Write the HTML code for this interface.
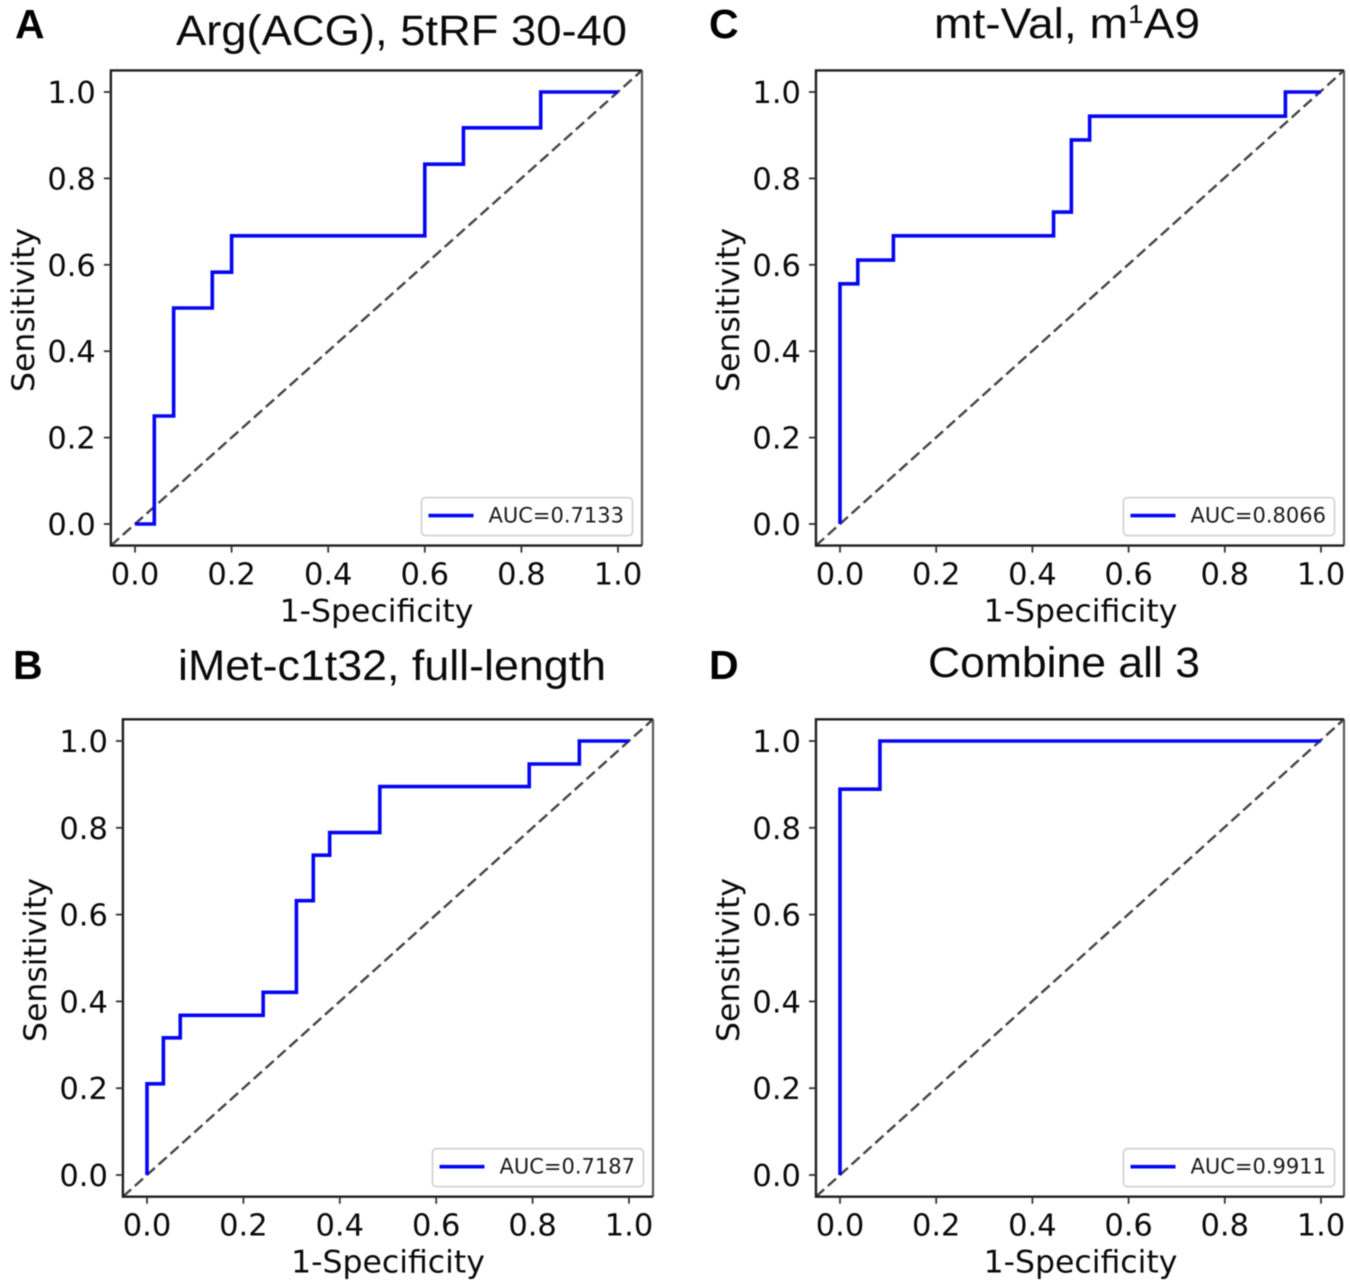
<!DOCTYPE html>
<html lang="en">
<head>
<meta charset="utf-8">
<title>ROC curves</title>
<style>
html,body{margin:0;padding:0;background:#fff;width:1350px;height:1284px;overflow:hidden}
svg{display:block;filter:blur(0.5px)}
text{fill:#0a0a0a}
.tick{font:30.5px "DejaVu Sans",sans-serif}
.axis{font:31.5px "DejaVu Sans",sans-serif}
.leg{font:21px "DejaVu Sans",sans-serif;fill:#1a1a1a}
.title{font:43px "Liberation Sans",sans-serif;fill:#0a0a0a}
.letter{font:bold 41px "Liberation Sans",sans-serif;fill:#000}
</style>
</head>
<body>
<svg id="figure" xmlns="http://www.w3.org/2000/svg" width="1350" height="1284" viewBox="0 0 1350 1284">
<rect width="1350" height="1284" fill="#fff"/>
<text class="letter" x="15" y="38">A</text>
<text class="letter" x="13" y="679">B</text>
<text class="letter" x="709" y="38">C</text>
<text class="letter" x="709" y="679">D</text>
<text class="title" x="176" y="45" textLength="451" lengthAdjust="spacingAndGlyphs">Arg(ACG), 5tRF 30-40</text>
<text class="title" x="178" y="680" textLength="428" lengthAdjust="spacingAndGlyphs">iMet-c1t32, full-length</text>
<text class="title" x="934" y="38" textLength="266" lengthAdjust="spacingAndGlyphs">mt-Val, m<tspan dy="-15" font-size="26">1</tspan><tspan dy="15">A9</tspan></text>
<text class="title" x="928" y="677" textLength="272" lengthAdjust="spacingAndGlyphs">Combine all 3</text>
</svg>
<script>
// Tick labels
const tickValues = [0, 0.2, 0.4, 0.6, 0.8, 1.0];
const tickLabels = ["0.0", "0.2", "0.4", "0.6", "0.8", "1.0"];

// Panel A: Arg(ACG), 5tRF 30-40
const fprA = [0, 0.04, 0.08, 0.16, 0.20, 0.60, 0.68, 0.84, 1];
const tprA = [0, 0.25, 0.50, 0.583, 0.667, 0.833, 0.917, 1, 1];
const aucA = "AUC=0.7133";

// Panel B: iMet-c1t32, full-length
const fprB = [0, 0, 0.034, 0.069, 0.241, 0.31, 0.345, 0.379, 0.483, 0.793, 0.897, 1];
const tprB = [0, 0.21, 0.316, 0.368, 0.421, 0.632, 0.737, 0.789, 0.895, 0.947, 1, 1];
const aucB = "AUC=0.7187";

// Panel C: mt-Val, m1A9
const fprC = [0, 0, 0.037, 0.111, 0.444, 0.481, 0.519, 0.926, 1];
const tprC = [0, 0.556, 0.611, 0.667, 0.722, 0.889, 0.944, 1, 1];
const aucC = "AUC=0.8066";

// Panel D: Combine all 3
const fprD = [0, 0, 0.083, 1];
const tprD = [0, 0.889, 1, 1];
const aucD = "AUC=0.9911";

const NS = "http://www.w3.org/2000/svg";
const figure = document.getElementById("figure");

function make(tag, attrs, parent) {
  const el = document.createElementNS(NS, tag);
  for (const k in attrs) el.setAttribute(k, attrs[k]);
  parent.appendChild(el);
  return el;
}

function drawPanel(id, frame, fpr, tpr, auc) {
  const sx = v => frame.x0 + v * (frame.x1 - frame.x0);
  const sy = v => frame.y0 + v * (frame.y1 - frame.y0);
  const left = sx(-0.05), right = frame.right, top = sy(1.05), bottom = sy(-0.05);

  const g = make("g", {}, figure);
  
  

  const diag = make("line", {x1: left, y1: bottom, x2: right, y2: top, stroke: "#444", "stroke-width": 2.4, "stroke-dasharray": "11 5"}, g);
  
  

  let d = "M" + sx(fpr[0]) + " " + sy(tpr[0]);
  for (let i = 0; i < fpr.length - 1; i++) {
    d += "L" + sx(fpr[i + 1]) + " " + sy(tpr[i]);
    d += "L" + sx(fpr[i + 1]) + " " + sy(tpr[i + 1]);
  }
  const curve = make("path", {d: d, fill: "none", stroke: "#0505f5", "stroke-width": 3.6, "stroke-linejoin": "miter"}, g);
  
  

  const rightSpine = make("line", {x1: right, x2: right, y1: top, y2: bottom, stroke: "#5a5a5a", "stroke-width": 2.2}, g);
  
  

  const spine = make("path", {d: "M" + right + " " + top + "H" + left + "V" + bottom + "H" + right, fill: "none", stroke: "#1e1e1e", "stroke-width": 2.4}, g);
  
  

  tickValues.forEach((v, i) => {
    const xt = make("line", {x1: sx(v), x2: sx(v), y1: bottom, y2: bottom + 7, stroke: "#333", "stroke-width": 1.8}, g);
    
    
    const xl = make("text", {x: sx(v), y: bottom + 39, "text-anchor": "middle", class: "tick"}, g);
    xl.textContent = tickLabels[i];
    
    
    const yt = make("line", {x1: left - 7, x2: left, y1: sy(v), y2: sy(v), stroke: "#333", "stroke-width": 1.8}, g);
    
    
    const yl = make("text", {x: left - 15, y: sy(v) + 11, "text-anchor": "end", class: "tick"}, g);
    yl.textContent = tickLabels[i];
    
    
  });

  const xTitle = make("text", {x: (sx(0) + sx(1)) / 2, y: bottom + 76, "text-anchor": "middle", class: "axis"}, g);
  xTitle.textContent = "1-Specificity";
  
  

  const ycx = left - 77, ycy = (top + bottom) / 2 + 2;
  const yTitle = make("text", {x: ycx, y: ycy, "text-anchor": "middle", class: "axis", transform: "rotate(-90 " + ycx + " " + ycy + ")"}, g);
  yTitle.textContent = "Sensitivity";
  
  

  const lw = 211, lh = 38, lx = right - lw - 9.5, ly = bottom - lh - 10;
  const box = make("rect", {x: lx, y: ly, width: lw, height: lh, rx: 4, fill: "#fff", stroke: "#d4d4d4", "stroke-width": 1.8}, g);
  
  
  const key = make("line", {x1: lx + 7, x2: lx + 52, y1: ly + 18, y2: ly + 18, stroke: "#0505f5", "stroke-width": 3.6}, g);
  
  
  const label = make("text", {x: lx + 67, y: ly + 25, class: "leg"}, g);
  label.textContent = auc;
  
  
}

drawPanel("a", {x0: 135, x1: 618, y0: 524, y1: 92, right: 642}, fprA, tprA, aucA);
drawPanel("b", {x0: 147, x1: 629, y0: 1175, y1: 741, right: 653}, fprB, tprB, aucB);
drawPanel("c", {x0: 840, x1: 1321, y0: 524, y1: 92, right: 1344}, fprC, tprC, aucC);
drawPanel("d", {x0: 840, x1: 1321, y0: 1175, y1: 741, right: 1344}, fprD, tprD, aucD);
</script>
</body>
</html>
